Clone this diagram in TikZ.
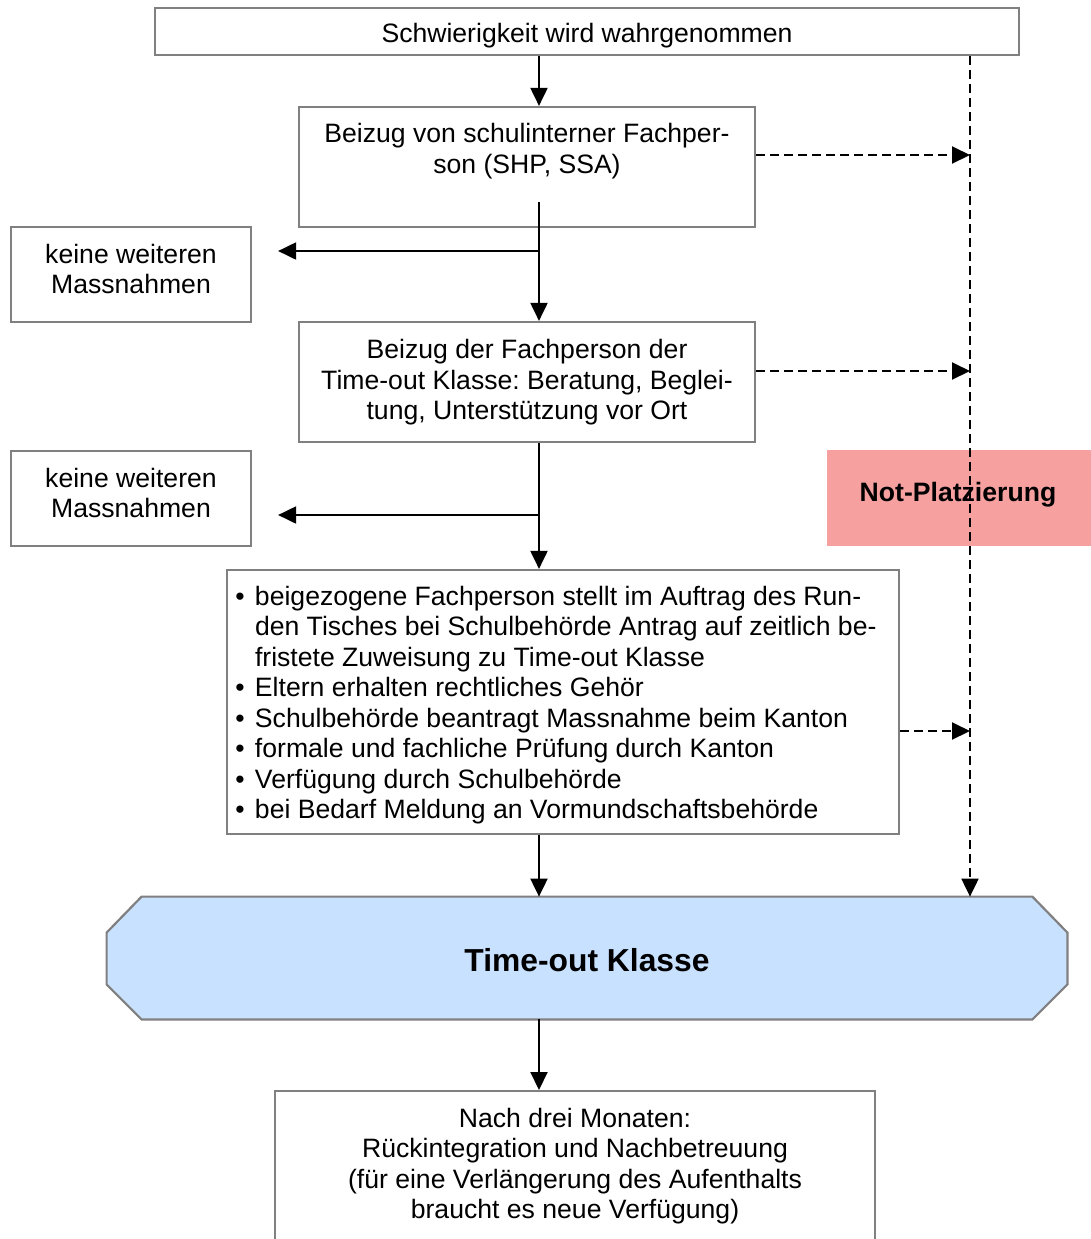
\documentclass[tikz,border=0pt]{standalone}
\usepackage{fontspec}
\setmainfont{Liberation Sans}
\usetikzlibrary{arrows.meta,calc}
\frenchspacing
\definecolor{bordergray}{RGB}{128,128,128}
\definecolor{tokblue}{RGB}{200,225,255}
\definecolor{notred}{RGB}{246,160,160}
\newcommand\bul{\makebox[9.8pt][l]{•}}
\newcommand\ind{\hspace*{9.8pt}}
\begin{document}
\begin{tikzpicture}[x=0.5pt,y=-0.5pt,
  box/.style={draw=bordergray,line width=1.1pt,rectangle,inner sep=0pt},
  txt/.style={inner sep=0pt,align=center,font=\fontsize{13.3pt}{15.25pt}\selectfont\frenchspacing},
  arr/.style={line width=1pt,-{Triangle[length=9pt,width=8.5pt]}},
  dasharr/.style={line width=1pt,dash pattern=on 4.5pt off 2.5pt,-{Triangle[length=9pt,width=8.5pt]}},
]
\useasboundingbox (0,0) rectangle (1091,1239);
\clip (0,0) rectangle (1091,1239);

% boxes
\node[box,minimum width=432pt,minimum height=23.5pt] (b1) at (587,31.5) {};
\node[txt] (t1) at (587,35.5) {Schwierigkeit wird wahrgenommen};

\node[box,minimum width=228pt,minimum height=60pt] (b2) at (527,167) {};
\node[txt] (t2) at (527,151) {Beizug von schulinterner Fachper-\\son (SHP, SSA)};

\node[box,minimum width=120pt,minimum height=47.5pt] (k1) at (131,274.5) {};
\node[txt] (tk1) at (131,269) {keine weiteren\\Massnahmen};

\node[box,minimum width=228pt,minimum height=60pt] (b3) at (527,382) {};
\node[txt] (t3) at (527,382.5) {Beizug der Fachperson der\\Time-out Klasse: Beratung, Beglei-\\tung, Unterstützung vor Ort};

\node[box,minimum width=120pt,minimum height=47.5pt] (k2) at (131,498.5) {};
\node[txt] (tk2) at (131,493) {keine weiteren\\Massnahmen};

\node[box,minimum width=336pt,minimum height=132pt] (b5) at (563,702) {};
\node[txt,align=left,anchor=west] (t5) at (235,705) {\bul beigezogene Fachperson stellt im Auftrag des Run-\\
\ind den Tisches bei Schulbehörde Antrag auf zeitlich be-\\
\ind fristete Zuweisung zu Time-out Klasse\\
\bul Eltern erhalten rechtliches Gehör\\
\bul Schulbehörde beantragt Massnahme beim Kanton\\
\bul formale und fachliche Prüfung durch Kanton\\
\bul Verfügung durch Schulbehörde\\
\bul bei Bedarf Meldung an Vormundschaftsbehörde};

% octagon
\node[inner sep=0pt,minimum width=480pt,minimum height=61pt] (tok) at (587,958) {};
\draw[draw=bordergray,line width=1.1pt,fill=tokblue]
  ($(tok.north west)+(0,36)$) -- ($(tok.north west)+(35,0)$) --
  ($(tok.north east)+(-35,0)$) -- ($(tok.north east)+(0,36)$) --
  ($(tok.south east)+(0,-35)$) -- ($(tok.south east)+(-35,0)$) --
  ($(tok.south west)+(35,0)$) -- ($(tok.south west)+(0,-35)$) -- cycle;
\node[txt,font=\fontsize{15.9pt}{18pt}\selectfont\bfseries] (toktxt) at (587,960) {Time-out Klasse};

\node[box,minimum width=300pt,minimum height=90pt,anchor=north] (b6) at (575,1090) {};
\node[txt] (t6) at (575,1166) {Nach drei Monaten:\\Rückintegration und Nachbetreuung\\(für eine Verlängerung des Aufenthalts\\braucht es neue Verfügung)};

% Not-Platzierung
\node[fill=notred,inner sep=0pt,minimum width=132pt,minimum height=48pt] (np) at (959,498) {};
\node[txt,font=\fontsize{13.3pt}{15.25pt}\selectfont\bfseries] (npt) at (958,495) {Not-Platzierung};

% solid connectors
\coordinate (mx) at (539,0);
\coordinate (s2) at (539,202);
\coordinate (a1) at (539,251);
\coordinate (a2) at (539,515);
\draw[arr] (b1.south -| mx) -- (b2.north -| mx);
\draw[arr] (s2) -- (b3.north -| mx);
\draw[arr] (a1) -- ([xshift=13pt]k1.east |- a1);
\draw[arr] (b3.south -| mx) -- (b5.north -| mx);
\draw[arr] (a2) -- ([xshift=13pt]k2.east |- a2);
\draw[arr] (b5.south -| mx) -- (tok.north -| mx);
\draw[arr] (tok.south -| mx) -- (b6.north -| mx);

% dashed connectors
\coordinate (vx) at (970,0);
\coordinate (d1) at (970,155);
\coordinate (d2) at (970,371);
\coordinate (d3) at (970,731);
\draw[dasharr] (b1.south -| vx) -- (tok.north -| vx);
\draw[dasharr] (b2.east |- d1) -- (d1);
\draw[dasharr] (b3.east |- d2) -- (d2);
\draw[dasharr] (b5.east |- d3) -- (d3);
\end{tikzpicture}
\end{document}
